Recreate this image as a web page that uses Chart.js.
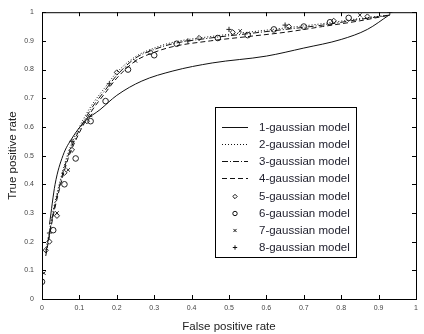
<!DOCTYPE html>
<html>
<head>
<meta charset="utf-8">
<script src="https://cdn.jsdelivr.net/npm/chart.js@4"></script>
<style>
  html, body { margin: 0; padding: 0; background: #fff; }
  #wrap { width: 424px; height: 334px; }
</style>
</head>
<body>
<div id="wrap"><canvas id="roc" width="424" height="334"></canvas></div>
<script>
// values (false positive rate / true positive rate)
const tickLabels = ['0', '0.1', '0.2', '0.3', '0.4', '0.5', '0.6', '0.7', '0.8', '0.9', '1'];

const fpr1 = [0.02, 0.035, 0.056, 0.08, 0.115, 0.155, 0.2, 0.267, 0.35, 0.455, 0.6, 0.7, 0.8, 0.87, 0.928];
const tpr1 = [0.26, 0.40, 0.50, 0.56, 0.62, 0.66, 0.71, 0.76, 0.795, 0.823, 0.847, 0.875, 0.905, 0.94, 0.99];

const fpr2 = [0.01, 0.02, 0.03, 0.05, 0.07, 0.1, 0.13, 0.17, 0.2, 0.25, 0.3, 0.35, 0.45, 0.55, 0.65, 0.75, 0.85, 0.93];
const tpr2 = [0.17, 0.24, 0.31, 0.42, 0.51, 0.60, 0.67, 0.74, 0.79, 0.845, 0.875, 0.895, 0.915, 0.93, 0.945, 0.96, 0.978, 0.99];

const fpr3 = [0.01, 0.02, 0.03, 0.05, 0.07, 0.1, 0.13, 0.17, 0.2, 0.25, 0.3, 0.35, 0.45, 0.55, 0.65, 0.75, 0.85, 0.93];
const tpr3 = [0.16, 0.23, 0.30, 0.41, 0.50, 0.59, 0.66, 0.73, 0.78, 0.84, 0.87, 0.89, 0.91, 0.925, 0.94, 0.955, 0.975, 0.99];

const fpr4 = [0.01, 0.02, 0.03, 0.05, 0.07, 0.1, 0.13, 0.17, 0.2, 0.25, 0.3, 0.35, 0.45, 0.55, 0.65, 0.75, 0.85, 0.93];
const tpr4 = [0.15, 0.22, 0.29, 0.40, 0.49, 0.58, 0.65, 0.72, 0.77, 0.83, 0.86, 0.88, 0.90, 0.915, 0.93, 0.95, 0.97, 0.99];

const fpr5 = [0.01, 0.02, 0.04, 0.06, 0.08, 0.12, 0.2, 0.29, 0.42, 0.51, 0.66, 0.78, 0.87];
const tpr5 = [0.17, 0.20, 0.29, 0.44, 0.52, 0.62, 0.79, 0.86, 0.91, 0.93, 0.95, 0.97, 0.985];

const fpr6 = [0.0, 0.03, 0.06, 0.09, 0.13, 0.17, 0.23, 0.3, 0.36, 0.47, 0.55, 0.62, 0.7, 0.77, 0.82];
const tpr6 = [0.06, 0.24, 0.40, 0.49, 0.62, 0.69, 0.80, 0.85, 0.89, 0.91, 0.92, 0.94, 0.95, 0.965, 0.98];

const fpr7 = [0.005, 0.04, 0.07, 0.13, 0.25, 0.53, 0.85];
const tpr7 = [0.09, 0.30, 0.45, 0.64, 0.83, 0.935, 0.99];

const fpr8 = [0.02, 0.08, 0.18, 0.39, 0.5, 0.65, 0.93];
const tpr8 = [0.23, 0.55, 0.75, 0.90, 0.94, 0.955, 1.0];

const labels = ['1-gaussian model', '2-gaussian model', '3-gaussian model', '4-gaussian model',
                '5-gaussian model', '6-gaussian model', '7-gaussian model', '8-gaussian model'];

const fontFam = '"Liberation Sans", Arial, sans-serif';

function pts(xs, ys) {
    return xs.map(function(x, i) { return { x: x, y: ys[i] }; });
}

function lineSet(label, xs, ys, dash, width) {
    return {
        label: label,
        data: pts(xs, ys),
        showLine: true,
        borderColor: '#111',
        borderWidth: width,
        borderDash: dash,
        pointRadius: 0,
        cubicInterpolationMode: 'monotone',
        fill: false
    };
}

function markSet(label, xs, ys, style, r) {
    return {
        label: label,
        data: pts(xs, ys),
        showLine: false,
        pointStyle: style,
        pointRadius: r,
        borderColor: '#222',
        backgroundColor: 'rgba(0,0,0,0)',
        pointBorderWidth: 1
    };
}

// draws tick marks inside the box, the box itself and the legend
const boxPlugin = {
    id: 'boxPlugin',
    afterDraw(chart) {
        const ctx = chart.ctx;
        const a = chart.chartArea;
        const xs = chart.scales.x, ys = chart.scales.y;
        ctx.save();
        ctx.strokeStyle = '#000';
        ctx.lineWidth = 1;
        ctx.strokeRect(a.left + 0.5, a.top + 0.5, a.right - a.left, a.bottom - a.top);
        ctx.beginPath();
        for (let i = 0; i < tickLabels.length; i++) {
            const v = parseFloat(tickLabels[i]);
            const px = Math.round(xs.getPixelForValue(v)) + 0.5;
            const py = Math.round(ys.getPixelForValue(v)) + 0.5;
            ctx.moveTo(px, a.bottom); ctx.lineTo(px, a.bottom - 4);
            ctx.moveTo(px, a.top); ctx.lineTo(px, a.top + 4);
            ctx.moveTo(a.left, py); ctx.lineTo(a.left + 4, py);
            ctx.moveTo(a.right, py); ctx.lineTo(a.right - 4, py);
        }
        ctx.stroke();

        // legend box
        const lx = 215, ly = 107, lw = 141, lh = 150;
        ctx.fillStyle = '#fff';
        ctx.fillRect(lx, ly, lw, lh);
        ctx.strokeRect(lx + 0.5, ly + 0.5, lw, lh);
        ctx.font = '11.5px ' + fontFam;
        ctx.textBaseline = 'middle';
        chart.data.datasets.forEach(function(ds, i) {
            const y = Math.round(127 + i * 17.14) + 0.5;
            ctx.strokeStyle = '#111';
            if (ds.showLine) {
                ctx.setLineDash(ds.borderDash || []);
                ctx.beginPath();
                ctx.moveTo(222, y); ctx.lineTo(248, y);
                ctx.stroke();
                ctx.setLineDash([]);
            } else {
                ctx.fillStyle = 'rgba(0,0,0,0)';
                Chart.helpers.drawPoint(ctx, {
                    pointStyle: ds.pointStyle, radius: 2.2, borderWidth: 1
                }, 235, y);
            }
            ctx.fillStyle = '#1c1c2a';
            ctx.fillText(ds.label, 259, y);
        });
        ctx.restore();
    }
};

document.addEventListener('DOMContentLoaded', function() {
    const ctx = document.getElementById('roc').getContext('2d');
    new Chart(ctx, {
        type: 'scatter',
        data: {
            datasets: [
                lineSet(labels[0], fpr1, tpr1, [], 1),
                lineSet(labels[1], fpr2, tpr2, [1, 2], 1),
                lineSet(labels[2], fpr3, tpr3, [6, 2, 1, 2], 1),
                lineSet(labels[3], fpr4, tpr4, [5, 3], 1),
                markSet(labels[4], fpr5, tpr5, 'rectRot', 2.6),
                markSet(labels[5], fpr6, tpr6, 'circle', 2.8),
                markSet(labels[6], fpr7, tpr7, 'crossRot', 2.4),
                markSet(labels[7], fpr8, tpr8, 'cross', 2.6)
            ]
        },
        options: {
            responsive: false,
            animation: false,
            layout: { padding: { top: 5, right: 8, left: 0, bottom: 0 } },
            plugins: {
                legend: { display: false },
                tooltip: { enabled: false }
            },
            scales: {
                x: {
                    type: 'linear',
                    min: 0, max: 1,
                    afterFit: function(s) { s.height = 35; },
                    afterBuildTicks: function(s) {
                        s.ticks = tickLabels.map(function(t) { return { value: parseFloat(t) }; });
                    },
                    ticks: {
                        padding: 5,
                        color: '#444',
                        font: { size: 7, family: fontFam },
                        maxRotation: 0,
                        callback: function(v, i) { return tickLabels[i]; }
                    },
                    grid: { display: false, drawTicks: false },
                    border: { display: false },
                    title: {
                        display: true,
                        text: 'False positive rate',
                        color: '#222',
                        padding: { top: 4, bottom: 0 },
                        font: { size: 11.5, family: fontFam }
                    }
                },
                y: {
                    type: 'linear',
                    min: 0, max: 1,
                    afterFit: function(s) { s.width = 42; },
                    afterBuildTicks: function(s) {
                        s.ticks = tickLabels.map(function(t) { return { value: parseFloat(t) }; });
                    },
                    ticks: {
                        padding: 8,
                        color: '#444',
                        font: { size: 7, family: fontFam },
                        callback: function(v, i) { return tickLabels[i]; }
                    },
                    grid: { display: false, drawTicks: false },
                    border: { display: false },
                    title: {
                        display: true,
                        text: 'True positive rate',
                        color: '#222',
                        padding: { top: 6, bottom: 2 },
                        font: { size: 11.5, family: fontFam }
                    }
                }
            }
        },
        plugins: [boxPlugin]
    });
});
</script>
</body>
</html>
